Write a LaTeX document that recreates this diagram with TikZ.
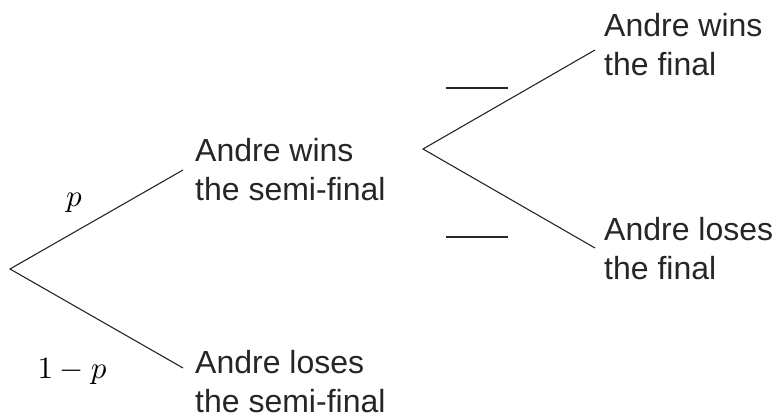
\documentclass[tikz,border=0pt]{standalone}
\usepackage{fontspec}
\setmainfont{Liberation Sans}
\begin{document}
\begin{tikzpicture}[x=1pt,y=1pt,
  branch/.style={draw=black!85, line width=1.1pt},
  outcome/.style={anchor=west, inner sep=0pt, align=left, font=\fontsize{32}{39}\selectfont, text=black!85},
  prob/.style={inner sep=0pt, scale=3.1}]
\useasboundingbox (0,0) rectangle (778,419);
% first stage
\coordinate (A) at (10,150);
\coordinate (B1) at (183,249);
\coordinate (B2) at (183,51);
\node[outcome] (W1) at (195,249) {Andre wins\\the semi-final};
\node[outcome] (L1) at (195,37) {Andre loses\\the semi-final};
\draw[branch] (B1) -- (A) -- (B2);
\node[prob] (P1) at (74,216) {$p$};
\node[prob] (P2) at (72,47) {$1-p$};
% second stage
\coordinate (C) at (423,270);
\coordinate (D1) at (595,369);
\coordinate (D2) at (595,171);
\node[outcome] (W2) at (604,374) {Andre wins\\the final};
\node[outcome] (L2) at (604,170) {Andre loses\\the final};
\draw[branch] (D1) -- (C) -- (D2);
% blanks
\coordinate (U1) at (446,331);
\coordinate (U2) at (508,331);
\coordinate (V1) at (446,182);
\coordinate (V2) at (508,182);
\draw[branch] (U1) -- (U2);
\draw[branch] (V1) -- (V2);
\end{tikzpicture}
\end{document}
